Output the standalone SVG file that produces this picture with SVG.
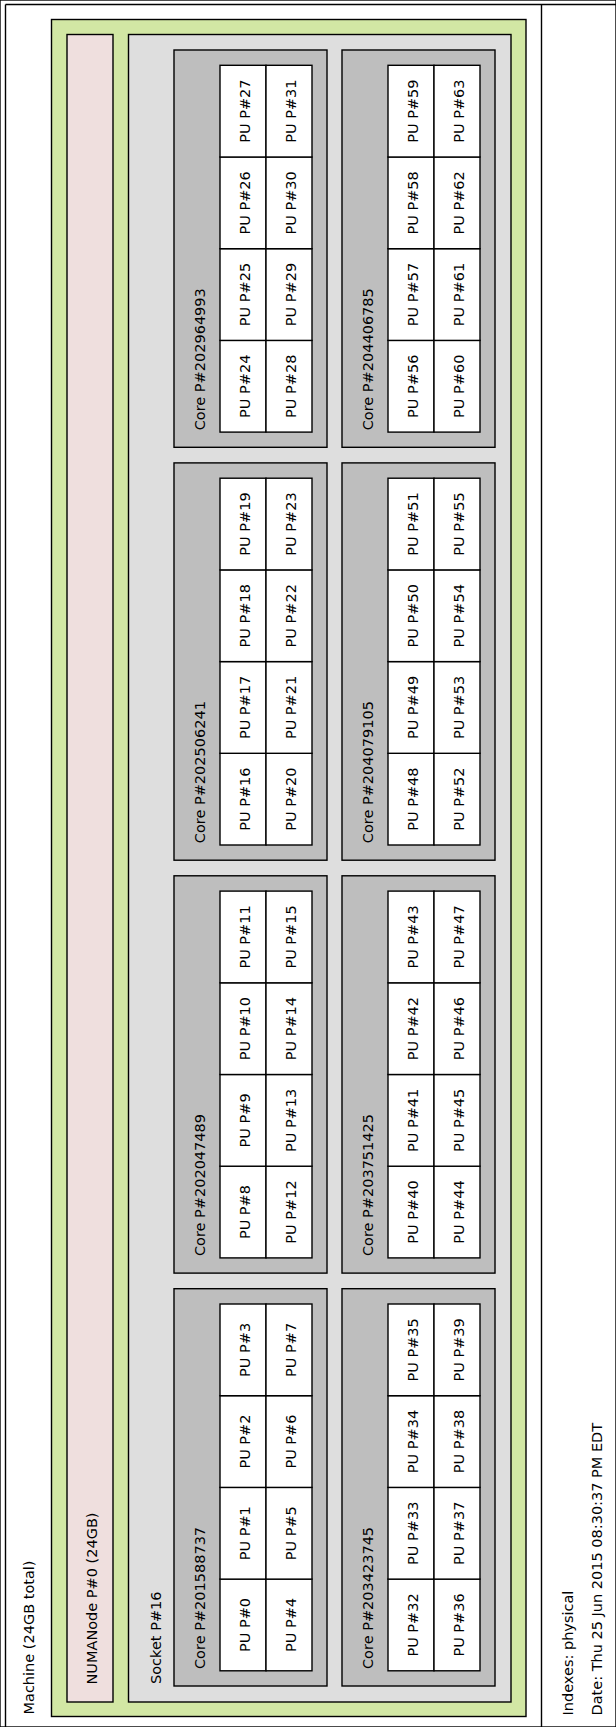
<svg xmlns="http://www.w3.org/2000/svg" width="616" height="1727" viewBox="0 0 616 1727">
<style>
rect{stroke:#000;stroke-width:1.4}
line{stroke:#000;stroke-width:1.4}
text{font-family:"DejaVu Sans","Liberation Sans",sans-serif;font-size:14.5px;fill:#000}
.pu rect{fill:#fff}
.pu text{text-anchor:middle}
.core>rect{fill:#bebebe}
</style>
<rect x="0" y="0" width="616" height="1727" fill="#fff" stroke="none"/>
<g id="frame">
<line x1="5.5" y1="4.5" x2="616" y2="4.5"/>
<line x1="5.5" y1="4.5" x2="5.5" y2="1727"/>
<line x1="541.5" y1="4.5" x2="541.5" y2="1727"/>
<text transform="translate(33.5,1714.5) rotate(-90)">Machine (24GB total)</text>
</g>
<g id="machine"><rect x="51.5" y="19.5" width="474.5" height="1697" fill="#d2e7a4"/></g>
<g id="numanode"><rect x="67" y="34.5" width="46" height="1667.5" fill="#efdfde"/>
<text transform="translate(96.5,1684.5) rotate(-90)">NUMANode P#0 (24GB)</text></g>
<g id="socket"><rect x="128.5" y="34.5" width="382.5" height="1667.5" fill="#dedede"/>
<text transform="translate(160.5,1684) rotate(-90)">Socket P#16</text></g>

<g id="core201588737" class="core"><rect x="174" y="1288.7" width="153" height="397.3"/>
<text transform="translate(205,1669) rotate(-90)">Core P#201588737</text>
<g class="pu" id="pu0"><rect x="220" y="1579.1" width="46" height="91.7"/><text transform="translate(250,1624.95) rotate(-90)">PU P#0</text></g>
<g class="pu" id="pu1"><rect x="220" y="1487.4" width="46" height="91.7"/><text transform="translate(250,1533.25) rotate(-90)">PU P#1</text></g>
<g class="pu" id="pu2"><rect x="220" y="1395.7" width="46" height="91.7"/><text transform="translate(250,1441.55) rotate(-90)">PU P#2</text></g>
<g class="pu" id="pu3"><rect x="220" y="1304" width="46" height="91.7"/><text transform="translate(250,1349.85) rotate(-90)">PU P#3</text></g>
<g class="pu" id="pu4"><rect x="266" y="1579.1" width="46" height="91.7"/><text transform="translate(296,1624.95) rotate(-90)">PU P#4</text></g>
<g class="pu" id="pu5"><rect x="266" y="1487.4" width="46" height="91.7"/><text transform="translate(296,1533.25) rotate(-90)">PU P#5</text></g>
<g class="pu" id="pu6"><rect x="266" y="1395.7" width="46" height="91.7"/><text transform="translate(296,1441.55) rotate(-90)">PU P#6</text></g>
<g class="pu" id="pu7"><rect x="266" y="1304" width="46" height="91.7"/><text transform="translate(296,1349.85) rotate(-90)">PU P#7</text></g>
</g>

<g id="core203423745" class="core"><rect x="342" y="1288.7" width="153" height="397.3"/>
<text transform="translate(373,1669) rotate(-90)">Core P#203423745</text>
<g class="pu" id="pu32"><rect x="388" y="1579.1" width="46" height="91.7"/><text transform="translate(418,1624.95) rotate(-90)">PU P#32</text></g>
<g class="pu" id="pu33"><rect x="388" y="1487.4" width="46" height="91.7"/><text transform="translate(418,1533.25) rotate(-90)">PU P#33</text></g>
<g class="pu" id="pu34"><rect x="388" y="1395.7" width="46" height="91.7"/><text transform="translate(418,1441.55) rotate(-90)">PU P#34</text></g>
<g class="pu" id="pu35"><rect x="388" y="1304" width="46" height="91.7"/><text transform="translate(418,1349.85) rotate(-90)">PU P#35</text></g>
<g class="pu" id="pu36"><rect x="434" y="1579.1" width="46" height="91.7"/><text transform="translate(464,1624.95) rotate(-90)">PU P#36</text></g>
<g class="pu" id="pu37"><rect x="434" y="1487.4" width="46" height="91.7"/><text transform="translate(464,1533.25) rotate(-90)">PU P#37</text></g>
<g class="pu" id="pu38"><rect x="434" y="1395.7" width="46" height="91.7"/><text transform="translate(464,1441.55) rotate(-90)">PU P#38</text></g>
<g class="pu" id="pu39"><rect x="434" y="1304" width="46" height="91.7"/><text transform="translate(464,1349.85) rotate(-90)">PU P#39</text></g>
</g>

<g id="core202047489" class="core"><rect x="174" y="875.8" width="153" height="397.3"/>
<text transform="translate(205,1256.1) rotate(-90)">Core P#202047489</text>
<g class="pu" id="pu8"><rect x="220" y="1166.2" width="46" height="91.7"/><text transform="translate(250,1212.05) rotate(-90)">PU P#8</text></g>
<g class="pu" id="pu9"><rect x="220" y="1074.5" width="46" height="91.7"/><text transform="translate(250,1120.35) rotate(-90)">PU P#9</text></g>
<g class="pu" id="pu10"><rect x="220" y="982.8" width="46" height="91.7"/><text transform="translate(250,1028.65) rotate(-90)">PU P#10</text></g>
<g class="pu" id="pu11"><rect x="220" y="891.1" width="46" height="91.7"/><text transform="translate(250,936.95) rotate(-90)">PU P#11</text></g>
<g class="pu" id="pu12"><rect x="266" y="1166.2" width="46" height="91.7"/><text transform="translate(296,1212.05) rotate(-90)">PU P#12</text></g>
<g class="pu" id="pu13"><rect x="266" y="1074.5" width="46" height="91.7"/><text transform="translate(296,1120.35) rotate(-90)">PU P#13</text></g>
<g class="pu" id="pu14"><rect x="266" y="982.8" width="46" height="91.7"/><text transform="translate(296,1028.65) rotate(-90)">PU P#14</text></g>
<g class="pu" id="pu15"><rect x="266" y="891.1" width="46" height="91.7"/><text transform="translate(296,936.95) rotate(-90)">PU P#15</text></g>
</g>

<g id="core203751425" class="core"><rect x="342" y="875.8" width="153" height="397.3"/>
<text transform="translate(373,1256.1) rotate(-90)">Core P#203751425</text>
<g class="pu" id="pu40"><rect x="388" y="1166.2" width="46" height="91.7"/><text transform="translate(418,1212.05) rotate(-90)">PU P#40</text></g>
<g class="pu" id="pu41"><rect x="388" y="1074.5" width="46" height="91.7"/><text transform="translate(418,1120.35) rotate(-90)">PU P#41</text></g>
<g class="pu" id="pu42"><rect x="388" y="982.8" width="46" height="91.7"/><text transform="translate(418,1028.65) rotate(-90)">PU P#42</text></g>
<g class="pu" id="pu43"><rect x="388" y="891.1" width="46" height="91.7"/><text transform="translate(418,936.95) rotate(-90)">PU P#43</text></g>
<g class="pu" id="pu44"><rect x="434" y="1166.2" width="46" height="91.7"/><text transform="translate(464,1212.05) rotate(-90)">PU P#44</text></g>
<g class="pu" id="pu45"><rect x="434" y="1074.5" width="46" height="91.7"/><text transform="translate(464,1120.35) rotate(-90)">PU P#45</text></g>
<g class="pu" id="pu46"><rect x="434" y="982.8" width="46" height="91.7"/><text transform="translate(464,1028.65) rotate(-90)">PU P#46</text></g>
<g class="pu" id="pu47"><rect x="434" y="891.1" width="46" height="91.7"/><text transform="translate(464,936.95) rotate(-90)">PU P#47</text></g>
</g>

<g id="core202506241" class="core"><rect x="174" y="462.9" width="153" height="397.3"/>
<text transform="translate(205,843.2) rotate(-90)">Core P#202506241</text>
<g class="pu" id="pu16"><rect x="220" y="753.3" width="46" height="91.7"/><text transform="translate(250,799.15) rotate(-90)">PU P#16</text></g>
<g class="pu" id="pu17"><rect x="220" y="661.6" width="46" height="91.7"/><text transform="translate(250,707.45) rotate(-90)">PU P#17</text></g>
<g class="pu" id="pu18"><rect x="220" y="569.9" width="46" height="91.7"/><text transform="translate(250,615.75) rotate(-90)">PU P#18</text></g>
<g class="pu" id="pu19"><rect x="220" y="478.2" width="46" height="91.7"/><text transform="translate(250,524.05) rotate(-90)">PU P#19</text></g>
<g class="pu" id="pu20"><rect x="266" y="753.3" width="46" height="91.7"/><text transform="translate(296,799.15) rotate(-90)">PU P#20</text></g>
<g class="pu" id="pu21"><rect x="266" y="661.6" width="46" height="91.7"/><text transform="translate(296,707.45) rotate(-90)">PU P#21</text></g>
<g class="pu" id="pu22"><rect x="266" y="569.9" width="46" height="91.7"/><text transform="translate(296,615.75) rotate(-90)">PU P#22</text></g>
<g class="pu" id="pu23"><rect x="266" y="478.2" width="46" height="91.7"/><text transform="translate(296,524.05) rotate(-90)">PU P#23</text></g>
</g>

<g id="core204079105" class="core"><rect x="342" y="462.9" width="153" height="397.3"/>
<text transform="translate(373,843.2) rotate(-90)">Core P#204079105</text>
<g class="pu" id="pu48"><rect x="388" y="753.3" width="46" height="91.7"/><text transform="translate(418,799.15) rotate(-90)">PU P#48</text></g>
<g class="pu" id="pu49"><rect x="388" y="661.6" width="46" height="91.7"/><text transform="translate(418,707.45) rotate(-90)">PU P#49</text></g>
<g class="pu" id="pu50"><rect x="388" y="569.9" width="46" height="91.7"/><text transform="translate(418,615.75) rotate(-90)">PU P#50</text></g>
<g class="pu" id="pu51"><rect x="388" y="478.2" width="46" height="91.7"/><text transform="translate(418,524.05) rotate(-90)">PU P#51</text></g>
<g class="pu" id="pu52"><rect x="434" y="753.3" width="46" height="91.7"/><text transform="translate(464,799.15) rotate(-90)">PU P#52</text></g>
<g class="pu" id="pu53"><rect x="434" y="661.6" width="46" height="91.7"/><text transform="translate(464,707.45) rotate(-90)">PU P#53</text></g>
<g class="pu" id="pu54"><rect x="434" y="569.9" width="46" height="91.7"/><text transform="translate(464,615.75) rotate(-90)">PU P#54</text></g>
<g class="pu" id="pu55"><rect x="434" y="478.2" width="46" height="91.7"/><text transform="translate(464,524.05) rotate(-90)">PU P#55</text></g>
</g>

<g id="core202964993" class="core"><rect x="174" y="50" width="153" height="397.3"/>
<text transform="translate(205,430.3) rotate(-90)">Core P#202964993</text>
<g class="pu" id="pu24"><rect x="220" y="340.4" width="46" height="91.7"/><text transform="translate(250,386.25) rotate(-90)">PU P#24</text></g>
<g class="pu" id="pu25"><rect x="220" y="248.7" width="46" height="91.7"/><text transform="translate(250,294.55) rotate(-90)">PU P#25</text></g>
<g class="pu" id="pu26"><rect x="220" y="157" width="46" height="91.7"/><text transform="translate(250,202.85) rotate(-90)">PU P#26</text></g>
<g class="pu" id="pu27"><rect x="220" y="65.3" width="46" height="91.7"/><text transform="translate(250,111.15) rotate(-90)">PU P#27</text></g>
<g class="pu" id="pu28"><rect x="266" y="340.4" width="46" height="91.7"/><text transform="translate(296,386.25) rotate(-90)">PU P#28</text></g>
<g class="pu" id="pu29"><rect x="266" y="248.7" width="46" height="91.7"/><text transform="translate(296,294.55) rotate(-90)">PU P#29</text></g>
<g class="pu" id="pu30"><rect x="266" y="157" width="46" height="91.7"/><text transform="translate(296,202.85) rotate(-90)">PU P#30</text></g>
<g class="pu" id="pu31"><rect x="266" y="65.3" width="46" height="91.7"/><text transform="translate(296,111.15) rotate(-90)">PU P#31</text></g>
</g>

<g id="core204406785" class="core"><rect x="342" y="50" width="153" height="397.3"/>
<text transform="translate(373,430.3) rotate(-90)">Core P#204406785</text>
<g class="pu" id="pu56"><rect x="388" y="340.4" width="46" height="91.7"/><text transform="translate(418,386.25) rotate(-90)">PU P#56</text></g>
<g class="pu" id="pu57"><rect x="388" y="248.7" width="46" height="91.7"/><text transform="translate(418,294.55) rotate(-90)">PU P#57</text></g>
<g class="pu" id="pu58"><rect x="388" y="157" width="46" height="91.7"/><text transform="translate(418,202.85) rotate(-90)">PU P#58</text></g>
<g class="pu" id="pu59"><rect x="388" y="65.3" width="46" height="91.7"/><text transform="translate(418,111.15) rotate(-90)">PU P#59</text></g>
<g class="pu" id="pu60"><rect x="434" y="340.4" width="46" height="91.7"/><text transform="translate(464,386.25) rotate(-90)">PU P#60</text></g>
<g class="pu" id="pu61"><rect x="434" y="248.7" width="46" height="91.7"/><text transform="translate(464,294.55) rotate(-90)">PU P#61</text></g>
<g class="pu" id="pu62"><rect x="434" y="157" width="46" height="91.7"/><text transform="translate(464,202.85) rotate(-90)">PU P#62</text></g>
<g class="pu" id="pu63"><rect x="434" y="65.3" width="46" height="91.7"/><text transform="translate(464,111.15) rotate(-90)">PU P#63</text></g>
</g>

<g id="legend">
<text transform="translate(572.5,1715.5) rotate(-90)">Indexes: physical</text>
<text transform="translate(602,1715.5) rotate(-90)">Date: Thu 25 Jun 2015 08:30:37 PM EDT</text>
</g>
<g id="connectors"/>
</svg>
